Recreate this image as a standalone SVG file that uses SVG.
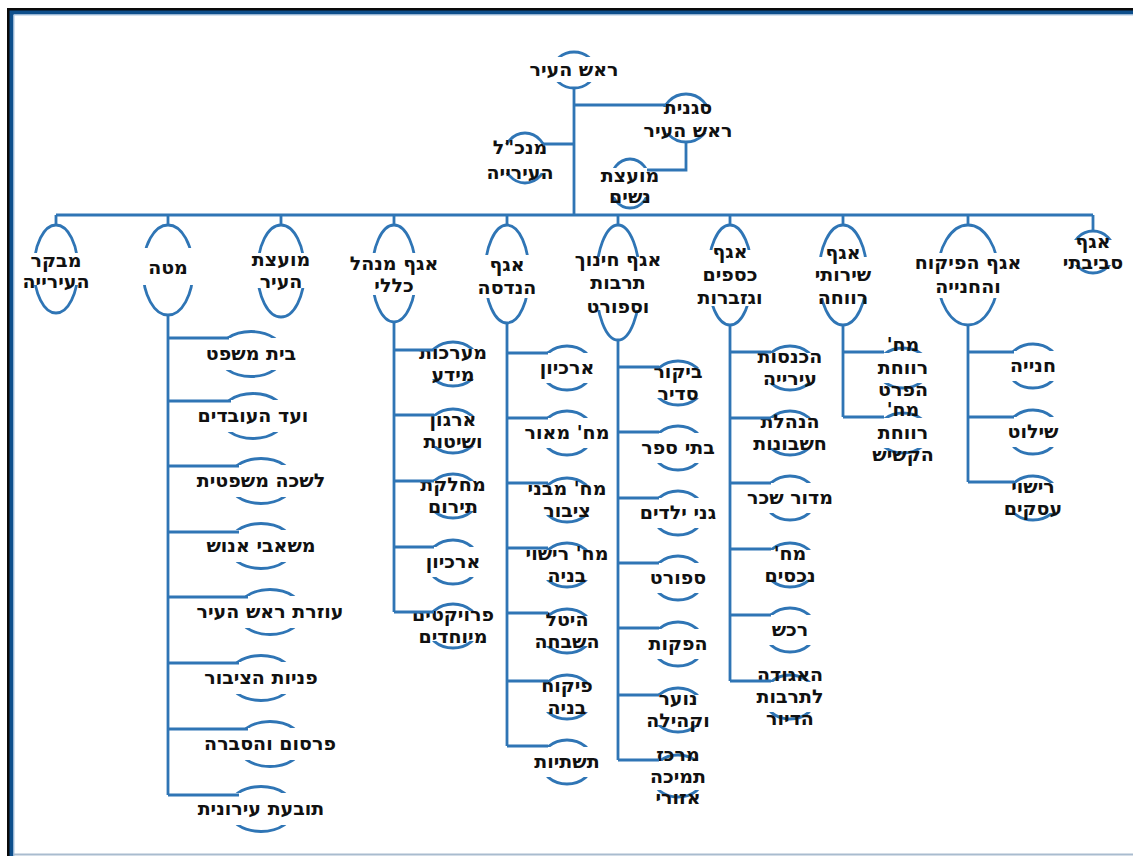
<svg xmlns="http://www.w3.org/2000/svg" width="1133" height="856" viewBox="0 0 1133 856">
<style>
.el{fill:none;stroke:#2f75b5;stroke-width:2.8}
.mk{fill:#fff;stroke:none}
.ln{fill:none;stroke:#2f75b5;stroke-width:2.8}
.t{font-family:"DejaVu Sans","Noto Sans",sans-serif;font-size:19px;font-weight:bold;fill:#111;text-anchor:middle;direction:rtl}
</style>
<rect x="0" y="0" width="1133" height="856" fill="#fff"/>
<g id="frame">
<path d="M8.5,856 V9.5 H1133" fill="none" stroke="#0a0a0a" stroke-width="3"/>
<path d="M11.5,856 V12.5 H1133" fill="none" stroke="#0e4f8c" stroke-width="4"/>
<path d="M14,856 V15 H1133" fill="none" stroke="#a8c4e0" stroke-width="1"/>
<line x1="14" y1="854.5" x2="1133" y2="854.5" stroke="#a9bccf" stroke-width="2"/>
</g>

<g id="n-mayor"><ellipse class="el" cx="574" cy="70" rx="21" ry="18"/><rect class="mk" x="550" y="57" width="48" height="25"/><text class="t" x="574" y="76">ראש העיר</text></g>
<g id="n-deputy"><ellipse class="el" cx="686" cy="118" rx="24" ry="24"/><rect class="mk" x="659" y="107" width="54" height="26"/><text class="t"><tspan x="688" y="114">סגנית</tspan><tspan x="688" y="137">ראש העיר</tspan></text></g>
<g id="n-ceo"><ellipse class="el" cx="525" cy="158" rx="22" ry="25"/><rect class="mk" x="500" y="144" width="50" height="29"/><text class="t"><tspan x="520" y="154">מנכ"ל</tspan><tspan x="520" y="179">העירייה</tspan></text></g>
<g id="n-women"><ellipse class="el" cx="630" cy="183.5" rx="20" ry="24.5"/><rect class="mk" x="607" y="168" width="46" height="29"/><text class="t"><tspan x="630" y="182">מועצת</tspan><tspan x="630" y="203">נשים</tspan></text></g>

<g id="n-auditor"><ellipse class="el" cx="56" cy="269" rx="22" ry="44"/><rect class="mk" x="31" y="253" width="50" height="32"/><text class="t"><tspan x="56" y="267">מבקר</tspan><tspan x="56" y="288">העירייה</tspan></text></g>
<g id="n-staff"><ellipse class="el" cx="168" cy="270" rx="25" ry="45"/><rect class="mk" x="140" y="248" width="56" height="37"/><text class="t" x="168" y="274">מטה</text></g>
<g id="n-council"><ellipse class="el" cx="281" cy="271" rx="23.5" ry="46"/><rect class="mk" x="254.5" y="253" width="53" height="35"/><text class="t"><tspan x="281" y="266">מועצת</tspan><tspan x="281" y="288">העיר</tspan></text></g>
<g id="n-admin"><ellipse class="el" cx="394" cy="273.5" rx="22" ry="48.5"/><rect class="mk" x="369" y="253" width="50" height="42"/><text class="t"><tspan x="394" y="270">אגף מנהל</tspan><tspan x="394" y="292">כללי</tspan></text></g>
<g id="n-eng"><ellipse class="el" cx="507" cy="274" rx="22" ry="49"/><rect class="mk" x="482" y="255" width="50" height="43"/><text class="t"><tspan x="507" y="271">אגף</tspan><tspan x="507" y="294">הנדסה</tspan></text></g>
<g id="n-edu"><ellipse class="el" cx="618" cy="282.5" rx="22" ry="57.5"/><rect class="mk" x="593" y="257" width="50" height="53"/><text class="t"><tspan x="618" y="266">אגף חינוך</tspan><tspan x="618" y="289">תרבות</tspan><tspan x="618" y="313">וספורט</tspan></text></g>
<g id="n-fin"><ellipse class="el" cx="730" cy="275" rx="22" ry="50"/><rect class="mk" x="705" y="250" width="50" height="56"/><text class="t"><tspan x="730" y="258">אגף</tspan><tspan x="730" y="281">כספים</tspan><tspan x="730" y="304">וגזברות</tspan></text></g>
<g id="n-welfare"><ellipse class="el" cx="843" cy="275" rx="24" ry="50"/><rect class="mk" x="816" y="257" width="54" height="41"/><text class="t"><tspan x="843" y="259">אגף</tspan><tspan x="843" y="281">שירותי</tspan><tspan x="843" y="304">רווחה</tspan></text></g>
<g id="n-parking"><ellipse class="el" cx="968" cy="275" rx="30.5" ry="50"/><rect class="mk" x="934.5" y="253" width="67" height="45"/><text class="t"><tspan x="968" y="269">אגף הפיקוח</tspan><tspan x="968" y="293">והחנייה</tspan></text></g>
<g id="n-env"><ellipse class="el" cx="1093" cy="252" rx="21" ry="21"/><rect class="mk" x="1069" y="240" width="48" height="25"/><text class="t"><tspan x="1093" y="248">אגף</tspan><tspan x="1093" y="269">סביבתי</tspan></text></g>

<g id="n-s1"><ellipse class="el" cx="251" cy="354" rx="33" ry="22.5"/><rect class="mk" x="215" y="338" width="72" height="32"/><text class="t" x="251" y="360">בית משפט</text></g>
<g id="n-s2"><ellipse class="el" cx="253" cy="416" rx="33" ry="22.5"/><rect class="mk" x="217" y="400" width="72" height="32"/><text class="t" x="253" y="422">ועד העובדים</text></g>
<g id="n-s3"><ellipse class="el" cx="261" cy="481" rx="33" ry="22.5"/><rect class="mk" x="225" y="465" width="72" height="32"/><text class="t" x="261" y="487">לשכה משפטית</text></g>
<g id="n-s4"><ellipse class="el" cx="261" cy="546" rx="33" ry="22.5"/><rect class="mk" x="225" y="530" width="72" height="32"/><text class="t" x="261" y="552">משאבי אנוש</text></g>
<g id="n-s5"><ellipse class="el" cx="270" cy="612" rx="33" ry="22.5"/><rect class="mk" x="234" y="596" width="72" height="32"/><text class="t" x="270" y="618">עוזרת ראש העיר</text></g>
<g id="n-s6"><ellipse class="el" cx="261" cy="678" rx="33" ry="22.5"/><rect class="mk" x="225" y="662" width="72" height="32"/><text class="t" x="261" y="684">פניות הציבור</text></g>
<g id="n-s7"><ellipse class="el" cx="270" cy="744" rx="33" ry="22.5"/><rect class="mk" x="234" y="728" width="72" height="32"/><text class="t" x="270" y="750">פרסום והסברה</text></g>
<g id="n-s8"><ellipse class="el" cx="261" cy="809" rx="33" ry="22.5"/><rect class="mk" x="225" y="793" width="72" height="32"/><text class="t" x="261" y="815">תובעת עירונית</text></g>

<g id="n-a1"><ellipse class="el" cx="453" cy="364" rx="26" ry="22"/><rect class="mk" x="424" y="349" width="58" height="30"/><text class="t"><tspan x="453" y="359">מערכות</tspan><tspan x="453" y="381">מידע</tspan></text></g>
<g id="n-a2"><ellipse class="el" cx="453" cy="431" rx="26" ry="22"/><rect class="mk" x="424" y="416" width="58" height="30"/><text class="t"><tspan x="453" y="426">ארגון</tspan><tspan x="453" y="448">ושיטות</tspan></text></g>
<g id="n-a3"><ellipse class="el" cx="453" cy="496" rx="26" ry="22"/><rect class="mk" x="424" y="481" width="58" height="30"/><text class="t"><tspan x="453" y="491">מחלקת</tspan><tspan x="453" y="513">תירום</tspan></text></g>
<g id="n-a4"><ellipse class="el" cx="453" cy="562" rx="26" ry="22"/><rect class="mk" x="424" y="547" width="58" height="30"/><text class="t" x="453" y="568">ארכיון</text></g>
<g id="n-a5"><ellipse class="el" cx="453" cy="626" rx="26" ry="22"/><rect class="mk" x="424" y="611" width="58" height="30"/><text class="t"><tspan x="453" y="621">פרויקטים</tspan><tspan x="453" y="643">מיוחדים</tspan></text></g>

<g id="n-e1"><ellipse class="el" cx="567" cy="368" rx="26" ry="22"/><rect class="mk" x="538" y="353" width="58" height="30"/><text class="t" x="567" y="374">ארכיון</text></g>
<g id="n-e2"><ellipse class="el" cx="567" cy="433" rx="26" ry="22"/><rect class="mk" x="538" y="418" width="58" height="30"/><text class="t" x="567" y="439">מח' מאור</text></g>
<g id="n-e3"><ellipse class="el" cx="567" cy="500" rx="26" ry="22"/><rect class="mk" x="538" y="485" width="58" height="30"/><text class="t"><tspan x="567" y="495">מח' מבני</tspan><tspan x="567" y="517">ציבור</tspan></text></g>
<g id="n-e4"><ellipse class="el" cx="567" cy="565" rx="26" ry="22"/><rect class="mk" x="538" y="550" width="58" height="30"/><text class="t"><tspan x="567" y="560">מח' רישוי</tspan><tspan x="567" y="582">בניה</tspan></text></g>
<g id="n-e5"><ellipse class="el" cx="567" cy="631" rx="26" ry="22"/><rect class="mk" x="538" y="616" width="58" height="30"/><text class="t"><tspan x="567" y="626">היטל</tspan><tspan x="567" y="648">השבחה</tspan></text></g>
<g id="n-e6"><ellipse class="el" cx="567" cy="697" rx="26" ry="22"/><rect class="mk" x="538" y="682" width="58" height="30"/><text class="t"><tspan x="567" y="692">פיקוח</tspan><tspan x="567" y="714">בניה</tspan></text></g>
<g id="n-e7"><ellipse class="el" cx="567" cy="762" rx="26" ry="22"/><rect class="mk" x="538" y="747" width="58" height="30"/><text class="t" x="567" y="768">תשתיות</text></g>

<g id="n-d1"><ellipse class="el" cx="678" cy="383" rx="26" ry="22"/><rect class="mk" x="649" y="368" width="58" height="30"/><text class="t"><tspan x="678" y="378">ביקור</tspan><tspan x="678" y="400">סדיר</tspan></text></g>
<g id="n-d2"><ellipse class="el" cx="678" cy="448" rx="26" ry="22"/><rect class="mk" x="649" y="433" width="58" height="30"/><text class="t" x="678" y="454">בתי ספר</text></g>
<g id="n-d3"><ellipse class="el" cx="678" cy="513" rx="26" ry="22"/><rect class="mk" x="649" y="498" width="58" height="30"/><text class="t" x="678" y="519">גני ילדים</text></g>
<g id="n-d4"><ellipse class="el" cx="678" cy="578" rx="26" ry="22"/><rect class="mk" x="649" y="563" width="58" height="30"/><text class="t" x="678" y="584">ספורט</text></g>
<g id="n-d5"><ellipse class="el" cx="678" cy="644" rx="26" ry="22"/><rect class="mk" x="649" y="629" width="58" height="30"/><text class="t" x="678" y="650">הפקות</text></g>
<g id="n-d6"><ellipse class="el" cx="678" cy="710" rx="26" ry="22"/><rect class="mk" x="649" y="695" width="58" height="30"/><text class="t"><tspan x="678" y="705">נוער</tspan><tspan x="678" y="727">וקהילה</tspan></text></g>
<g id="n-d7"><ellipse class="el" cx="678" cy="776" rx="26" ry="21"/><rect class="mk" x="649" y="761" width="58" height="29"/><text class="t"><tspan x="678" y="761">מרכז</tspan><tspan x="678" y="783">תמיכה</tspan><tspan x="678" y="804">אזורי</tspan></text></g>

<g id="n-f1"><ellipse class="el" cx="790" cy="368" rx="26" ry="22"/><rect class="mk" x="761" y="353" width="58" height="30"/><text class="t"><tspan x="790" y="363">הכנסות</tspan><tspan x="790" y="385">עירייה</tspan></text></g>
<g id="n-f2"><ellipse class="el" cx="790" cy="433" rx="26" ry="22"/><rect class="mk" x="761" y="418" width="58" height="30"/><text class="t"><tspan x="790" y="428">הנהלת</tspan><tspan x="790" y="450">חשבונות</tspan></text></g>
<g id="n-f3"><ellipse class="el" cx="790" cy="498" rx="26" ry="22"/><rect class="mk" x="761" y="483" width="58" height="30"/><text class="t" x="790" y="504">מדור שכר</text></g>
<g id="n-f4"><ellipse class="el" cx="790" cy="565" rx="26" ry="22"/><rect class="mk" x="761" y="550" width="58" height="30"/><text class="t"><tspan x="790" y="560">מח'</tspan><tspan x="790" y="582">נכסים</tspan></text></g>
<g id="n-f5"><ellipse class="el" cx="790" cy="630" rx="26" ry="22"/><rect class="mk" x="761" y="615" width="58" height="30"/><text class="t" x="790" y="636">רכש</text></g>
<g id="n-f6"><ellipse class="el" cx="790" cy="697" rx="26" ry="22"/><rect class="mk" x="761" y="682" width="58" height="30"/><text class="t"><tspan x="790" y="681">האגודה</tspan><tspan x="790" y="703">לתרבות</tspan><tspan x="790" y="725">הדיור</tspan></text></g>

<g id="n-w1"><ellipse class="el" cx="903" cy="368" rx="26" ry="20"/><rect class="mk" x="874" y="353" width="58" height="30"/><text class="t"><tspan x="903" y="351">מח'</tspan><tspan x="903" y="374">רווחת</tspan><tspan x="903" y="396">הפרט</tspan></text></g>
<g id="n-w2"><ellipse class="el" cx="903" cy="433" rx="26" ry="20"/><rect class="mk" x="874" y="418" width="58" height="30"/><text class="t"><tspan x="903" y="416">מח'</tspan><tspan x="903" y="439">רווחת</tspan><tspan x="903" y="461">הקשיש</tspan></text></g>

<g id="n-p1"><ellipse class="el" cx="1033" cy="366" rx="26" ry="22"/><rect class="mk" x="1004" y="351" width="58" height="30"/><text class="t" x="1033" y="372">חנייה</text></g>
<g id="n-p2"><ellipse class="el" cx="1033" cy="432" rx="26" ry="22"/><rect class="mk" x="1004" y="417" width="58" height="30"/><text class="t" x="1033" y="438">שילוט</text></g>
<g id="n-p3"><ellipse class="el" cx="1033" cy="498" rx="26" ry="22"/><rect class="mk" x="1004" y="483" width="58" height="30"/><text class="t"><tspan x="1033" y="493">רישוי</tspan><tspan x="1033" y="515">עסקים</tspan></text></g>

<g id="connectors" class="ln">
<path d="M574,88 V215 M56,215 H1093"/>
<path d="M574,105 H666 M686,142 V170 H647 M574,144 H543"/>
<path d="M56,215 V225 M168,215 V225 M281,215 V225 M394,215 V225 M507,215 V225 M618,215 V225 M730,215 V225 M843,215 V225 M968,215 V225 M1093,215 V231"/>
<path d="M168,315 V795 M168,338 H229 M168,401 H231 M168,466 H239 M168,532 H239 M168,597 H248 M168,663 H239 M168,729 H248 M168,795 H239"/>
<path d="M394,322 V612 M394,350 H434 M394,415 H434 M394,481 H434 M394,547 H434 M394,612 H434"/>
<path d="M507,323 V746 M507,353 H548 M507,418 H548 M507,483 H548 M507,548 H548 M507,613 H548 M507,681 H548 M507,746 H548"/>
<path d="M618,340 V760 M618,367 H659 M618,432 H659 M618,498 H659 M618,563 H659 M618,628 H659 M618,695 H659 M618,760 H659"/>
<path d="M730,325 V681 M730,352 H771 M730,418 H771 M730,483 H771 M730,549 H771 M730,615 H771 M730,681 H771"/>
<path d="M843,325 V417 M843,352 H884 M843,417 H884"/>
<path d="M968,325 V482 M968,352 H1014 M968,417 H1014 M968,482 H1014"/>
</g>
</svg>
